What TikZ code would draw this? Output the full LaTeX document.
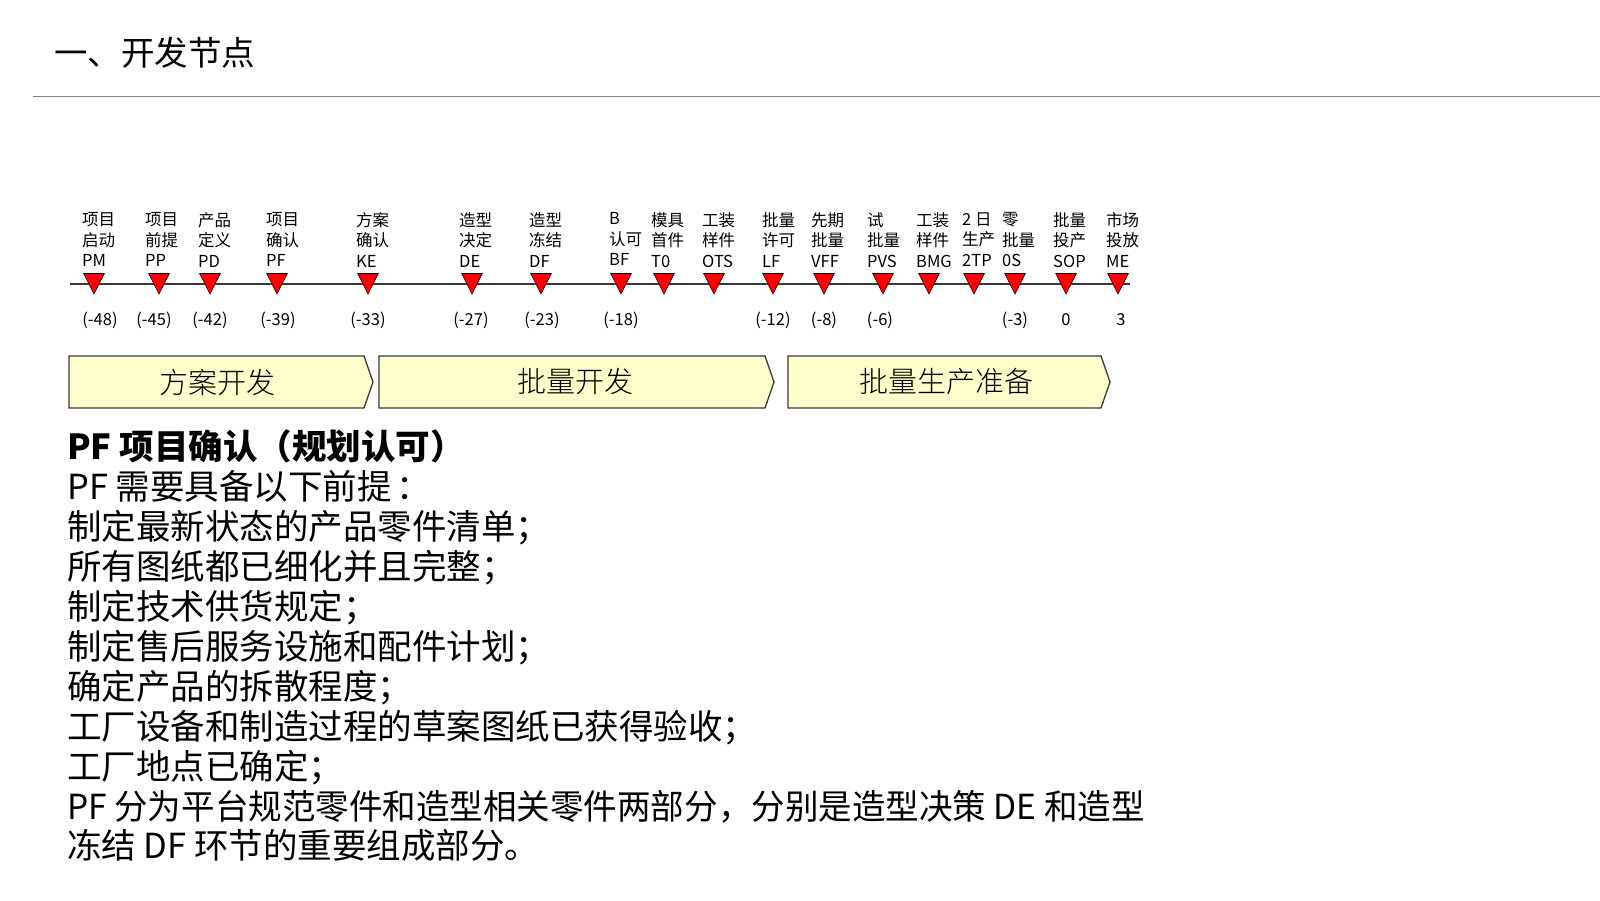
\documentclass[tikz,border=0pt]{standalone}
\usepackage{fontspec}
\setmainfont{Noto Sans CJK SC}
\newfontfamily\cjklight{Noto Sans CJK SC Light}
\definecolor{rulegray}{HTML}{808080}
\definecolor{linegray}{HTML}{3A3A3A}
\definecolor{phasefill}{HTML}{FFFFCC}
\definecolor{trired}{HTML}{FF0000}
\tikzset{
  lbl/.style={inner sep=0pt, align=left, font=\fontsize{16.5}{20.3}\selectfont},
  numlbl/.style={inner sep=0pt, font=\fontsize{16.5}{20}\selectfont},
  phasebox/.style={fill=phasefill, draw=linegray, line width=1.3pt, line join=miter},
  phasetxt/.style={inner sep=0pt, font=\cjklight\fontsize{29}{32}\selectfont},
  tri/.style={fill=trired, draw=black, line width=0.6pt, line join=miter},
  bodytxt/.style={inner sep=0pt, align=left, font=\fontsize{34.5}{39.9}\selectfont}
}
\begin{document}
\begin{tikzpicture}[x=1pt,y=-1pt]
\useasboundingbox (0,0) rectangle (1600,900);
% title and rule
\node[inner sep=0pt, anchor=west, font=\fontsize{33.5}{36}\selectfont] (title) at (54,52.5) {一、开发节点};
\coordinate (ruleL) at (33,96.7);
\coordinate (ruleR) at (1600,96.7);
\draw[rulegray, line width=1.3pt] (ruleL) -- (ruleR);
% timeline
\coordinate (tlL) at (70,284);
\coordinate (tlR) at (1130,284);
\draw[linegray, line width=1.5pt] (tlL) -- (tlR);
\foreach \x/\lx/\a/\b/\c/\n/\nx in {
  94/83/项目/启动/PM/(-48)/100,
  159/146/项目/前提/PP/(-45)/154,
  210/199/产品/定义/PD/(-42)/210,
  277/267/项目/确认/PF/(-39)/278,
  368/357/方案/确认/KE/(-33)/368,
  472/460/造型/决定/DE/(-27)/471,
  541/530/造型/冻结/DF/(-23)/542,
  621/610/B/认可/BF/(-18)/621,
  664/652/模具/首件/T0/{}/664,
  714/703/工装/样件/OTS/{}/714,
  773/763/批量/许可/LF/(-12)/773,
  824/812/先期/批量/VFF/(-8)/824,
  883/868/试/批量/PVS/(-6)/880,
  929/917/工装/样件/BMG/{}/929,
  974/963/2 日/生产/2TP/{}/974,
  1015/1003/零/批量/0S/(-3)/1015,
  1066/1054/批量/投产/SOP/0/1066,
  1118/1107/市场/投放/ME/3/1121}{
  \node[lbl, anchor=north west] (lab-\c) at (\lx-1,212.5) {\a\\\b\\\c};
  \coordinate (m-\c) at (\x,284);
  \filldraw[tri] (\x-10.3,273.5) -- (\x+10.3,273.5) -- (\x,294) -- cycle;
  \node[numlbl] (num-\c) at (\nx,320) {\n};
}
% phase boxes
\filldraw[phasebox] (69,356) -- (364,356) -- (373,382) -- (364,408) -- (69,408) -- cycle;
\node[phasetxt] (ph1) at (217,382) {方案开发};
\filldraw[phasebox] (379,356) -- (765,356) -- (774,382) -- (765,408) -- (379,408) -- cycle;
\node[phasetxt] (ph2) at (575,382) {批量开发};
\filldraw[phasebox] (788,356) -- (1101,356) -- (1110,382) -- (1101,408) -- (788,408) -- cycle;
\node[phasetxt] (ph3) at (946,382) {批量生产准备};
% body text
\node[bodytxt, anchor=north west] (body) at (67,430) {%
{\bfseries PF 项目确认（规划认可）}\\
PF 需要具备以下前提\kern0.15em：\\
制定最新状态的产品零件清单；\\
所有图纸都已细化并且完整；\\
制定技术供货规定；\\
制定售后服务设施和配件计划；\\
确定产品的拆散程度；\\
工厂设备和制造过程的草案图纸已获得验收；\\
工厂地点已确定；\\
\scalebox{0.972}[1]{PF 分为平台规范零件和造型相关零件两部分，分别是造型决策 DE 和造型}\\
冻结 DF 环节的重要组成部分。};
\end{tikzpicture}
\end{document}
